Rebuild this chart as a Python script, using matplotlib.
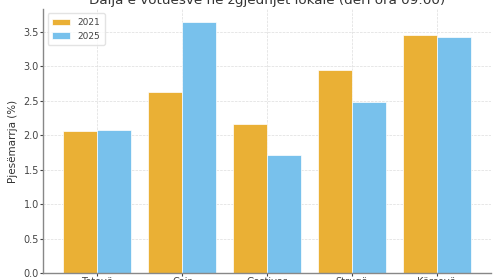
import matplotlib
matplotlib.use("Agg")
import matplotlib.pyplot as plt
import numpy as np

# data
municipalities = ["Tetovë", "Çair", "Gostivar", "Strugë", "Kërçovë"]
turnout_2021 = [2.06, 2.63, 2.16, 2.95, 3.46]
turnout_2025 = [2.07, 3.65, 1.71, 2.48, 3.42]

C_2021 = "#EAB035"
C_2025 = "#78C1EC"

fig = plt.figure(figsize=(5, 2.8), dpi=100)
ax = fig.add_axes([0.086, 0.025, 0.896, 0.943])

x = np.arange(len(municipalities))
w = 0.4
ax.bar(x - w / 2, turnout_2021, w, color=C_2021, edgecolor="white", linewidth=0.5, label="2021", zorder=2)
ax.bar(x + w / 2, turnout_2025, w, color=C_2025, edgecolor="white", linewidth=0.5, label="2025", zorder=2)

ax.set_xticks(x)
ax.set_xticklabels(municipalities)
ax.set_yticks(np.arange(0, 4.0, 0.5))
ax.set_ylabel("Pjesëmarrja (%)", fontsize=7.5, color="#333333", labelpad=4)
ax.set_title("Dalja e votuesve në zgjedhjet lokale (deri ora 09:00)",
             fontsize=9.7, color="#333333", pad=3.5)

ax.grid(True, linestyle="--", linewidth=0.5, color="#dddddd", zorder=0)
ax.set_axisbelow(True)
for side in ("top", "right"):
    ax.spines[side].set_visible(False)
for side in ("left", "bottom"):
    ax.spines[side].set_color("#888888")
    ax.spines[side].set_linewidth(1.0)
ax.tick_params(labelsize=7, colors="#444444", length=2, pad=1, width=0.8)

ax.legend(loc="upper left", fontsize=6.5, frameon=True, handlelength=2.0,
          labelcolor="#444444", borderpad=0.5, edgecolor="#dddddd")

fig.savefig("out.png", dpi=100)
